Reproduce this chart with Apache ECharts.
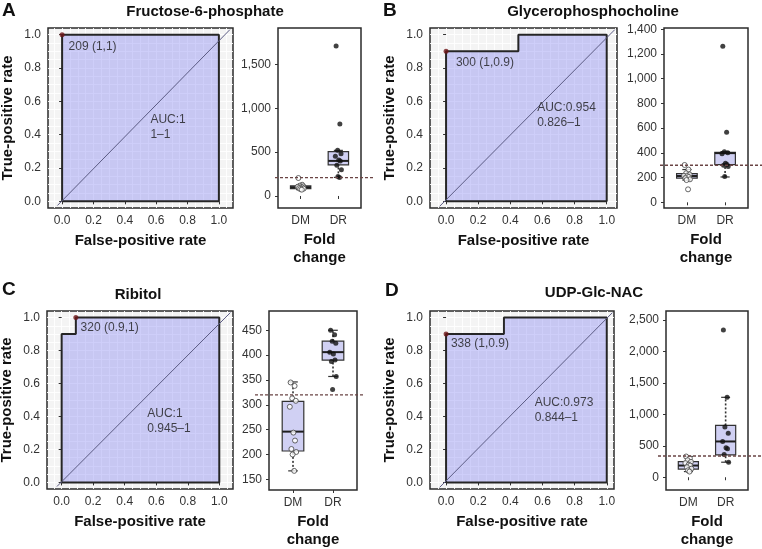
<!DOCTYPE html>
<html><head><meta charset="utf-8">
<script src="https://cdn.jsdelivr.net/npm/echarts@6/dist/echarts.min.js"></script>
<style>html,body{margin:0;padding:0;background:#fff}#c{width:762px;height:549px}</style>
</head><body><div id="c"></div>
<script>
// ---------------- data ----------------
const panelLetters = ['A', 'B', 'C', 'D'];
const metabolites = ['Fructose-6-phosphate', 'Glycerophosphocholine', 'Ribitol', 'UDP-Glc-NAC'];
const groups = ['DM', 'DR'];
const rocTicks = [0, 0.2, 0.4, 0.6, 0.8, 1.0];
const rocGridLines = [-0.05, 0, 0.05, 0.1, 0.15, 0.2, 0.25, 0.3, 0.35, 0.4, 0.45, 0.5, 0.55, 0.6, 0.65, 0.7, 0.75, 0.8, 0.85, 0.9, 0.95, 1, 1.05];

// ROC curves (false-positive rate, true-positive rate), traced round the shaded area
const rocA_fpr = [0, 0, 1, 1, 0];
const rocA_tpr = [0, 1, 1, 0, 0];
const rocB_fpr = [0, 0, 0.45, 0.45, 1, 1, 0];
const rocB_tpr = [0, 0.9, 0.9, 1, 1, 0, 0];
const rocC_fpr = [0, 0, 0.09, 0.09, 1, 1, 0];
const rocC_tpr = [0, 0.9, 0.9, 1, 1, 0, 0];
const rocD_fpr = [0, 0, 0.36, 0.36, 1, 1, 0];
const rocD_tpr = [0, 0.9, 0.9, 1, 1, 0, 0];

const cutoffValues = [209, 300, 320, 338];
const cutoffFpr = [0, 0, 0.09, 0];
const cutoffTpr = [1, 0.9, 1, 0.9];
const cutoffLabels = ['209 (1,1)', '300 (1,0.9)', '320 (0.9,1)', '338 (1,0.9)'];
const aucLabels = ['AUC:1', 'AUC:0.954', 'AUC:1', 'AUC:0.973'];
const aucCI = ['1\u20131', '0.826\u20131', '0.945\u20131', '0.844\u20131'];

// Box plot statistics: [lower whisker, Q1, median, Q3, upper whisker]
const boxA_DM = [72, 84, 100, 115, 128];
const boxA_DR = [212, 355, 400, 505, 520];
const boxB_DM = [180, 195, 213, 232, 265];
const boxB_DR = [205, 305, 398, 405, 410];
const boxC_DM = [167, 207, 246, 307, 346];
const boxC_DR = [357, 390, 406, 428, 450];
const boxD_DM = [90, 130, 186, 248, 330];
const boxD_DR = [239, 356, 569, 824, 1271];

// individual fold-change points
const ptsA_DM = [205, 128, 118, 110, 104, 100, 96, 90, 84, 78, 72];
const ptsA_DR = [1710, 820, 520, 482, 452, 410, 399, 350, 300, 222, 212];
const ptsB_DM = [302, 265, 235, 225, 215, 212, 205, 195, 186, 180, 105];
const ptsB_DR = [1262, 566, 410, 400, 392, 316, 305, 300, 290, 208];
const ptsC_DM = [345, 338, 313, 308, 296, 244, 228, 211, 205, 200, 167];
const ptsC_DR = [450, 441, 428, 424, 406, 402, 390, 387, 357, 331];
const ptsD_DM = [330, 300, 270, 245, 225, 200, 185, 160, 135, 110, 90];
const ptsD_DR = [2340, 1271, 800, 700, 570, 470, 455, 360, 240];

const boxTicksA = [0, 500, 1000, 1500];
const boxTicksB = [0, 200, 400, 600, 800, 1000, 1200, 1400];
const boxTicksC = [150, 200, 250, 300, 350, 400, 450];
const boxTicksD = [0, 500, 1000, 1500, 2000, 2500];

// ---------------- layout ----------------
const FONT = '"Liberation Sans", Arial, sans-serif';
const rocLayout = [
  { left: 48, top: 28, width: 185, height: 180, xmin: -0.09, xmax: 1.09, diag: [[-0.03, -0.025], [1.07, 1.03]], cut: [0.038, 0.93], auc: [0.56, 0.443] },
  { left: 430, top: 28, width: 187, height: 180, xmin: -0.1, xmax: 1.064, diag: [[-0.04, -0.03], [1.05, 1.03]], cut: [0.058, 0.83], auc: [0.564, 0.515] },
  { left: 47, top: 311, width: 186, height: 178, xmin: -0.093, xmax: 1.087, diag: [[-0.03, -0.025], [1.07, 1.03]], cut: [0.117, 0.936], auc: [0.54, 0.37] },
  { left: 430, top: 311, width: 184, height: 178, xmin: -0.1, xmax: 1.045, diag: [[-0.04, -0.03], [1.035, 1.03]], cut: [0.027, 0.84], auc: [0.548, 0.437] }
];
const boxLayout = [
  { left: 278, top: 28, width: 83, height: 180, ymin: -137, ymax: 1915, lineLeft: 275, lineRight: 373 },
  { left: 664, top: 28, width: 84, height: 180, ymin: -46, ymax: 1410, lineLeft: 660, lineRight: 762 },
  { left: 269, top: 311, width: 88, height: 179, ymin: 128.5, ymax: 488.8, lineLeft: 255, lineRight: 365 },
  { left: 666, top: 311, width: 82, height: 179, ymin: -203, ymax: 2644, lineLeft: 658, lineRight: 762 }
];
const titlePos = [[205, 12], [593, 12], [138, 295], [594, 293]];
const letterPos = [[2, 11], [383, 11], [2, 290], [385, 291]];

const rocFpr = [rocA_fpr, rocB_fpr, rocC_fpr, rocD_fpr];
const rocTpr = [rocA_tpr, rocB_tpr, rocC_tpr, rocD_tpr];
const boxStats = [[boxA_DM, boxA_DR], [boxB_DM, boxB_DR], [boxC_DM, boxC_DR], [boxD_DM, boxD_DR]];
const boxPts = [[ptsA_DM, ptsA_DR], [ptsB_DM, ptsB_DR], [ptsC_DM, ptsC_DR], [ptsD_DM, ptsD_DR]];
const boxTicks = [boxTicksA, boxTicksB, boxTicksC, boxTicksD];
const jitter = [-0.06, 0.04, -0.02, 0.07, -0.08, 0.01, 0.05, -0.04, 0.08, -0.01, 0.03];

// ---------------- build ----------------
const grid = [], xAxis = [], yAxis = [], series = [], graphic = [];
const tickLabelStyle = { fontFamily: FONT, fontSize: 12, color: '#333' };
const nameStyle = { fontFamily: FONT, fontSize: 15, fontWeight: 'bold', color: '#111', lineHeight: 18 };
const tickStyle = { show: true, length: 3, lineStyle: { color: '#333', width: 1 } };

function addGrid(g) {
  grid.push(Object.assign({ containLabel: false, outerBoundsMode: 'none' }, g));
  return grid.length - 1;
}

function textSeries(xi, yi, pt, text, extra) {
  series.push({
    type: 'scatter', xAxisIndex: xi, yAxisIndex: yi, symbolSize: 1, silent: true,
    itemStyle: { color: 'rgba(0,0,0,0)' }, z: 6,
    data: [pt],
    label: Object.assign({ show: true, position: 'right', distance: 0, formatter: text,
      fontFamily: FONT, fontSize: 12, color: '#1a1a1a', lineHeight: 15 }, extra || {})
  });
}

function rocPanel(i) {
  const L = rocLayout[i];
  const gi = addGrid({ left: L.left, top: L.top, width: L.width, height: L.height, show: true,
    borderColor: '#2b2b2b', borderWidth: 1.5, backgroundColor: '#f4f4f4' });
  const xi = xAxis.length, yi = yAxis.length;
  xAxis.push({ type: 'value', gridIndex: gi, min: L.xmin, max: L.xmax, position: 'bottom',
    name: 'False-positive rate', nameLocation: 'middle', nameGap: 24, nameTextStyle: nameStyle,
    axisLine: { show: false }, axisTick: Object.assign({ customValues: rocTicks }, tickStyle),
    axisLabel: Object.assign({ customValues: rocTicks, margin: 7, formatter: v => v.toFixed(1) }, tickLabelStyle),
    splitLine: { show: false } });
  xAxis.push({ type: 'value', gridIndex: gi, min: L.xmin, max: L.xmax, position: 'top',
    axisLine: { show: false }, axisTick: { show: false, customValues: rocGridLines }, axisLabel: { show: false },
    splitLine: { show: true, lineStyle: { color: '#ffffff', width: 1, opacity: 0.9 } } });
  yAxis.push({ type: 'value', gridIndex: gi, min: -0.04, max: 1.04, position: 'left',
    name: 'True-positive rate', nameLocation: 'middle', nameGap: 31, nameTextStyle: nameStyle,
    axisLine: { show: false }, axisTick: Object.assign({ customValues: rocTicks }, tickStyle),
    axisLabel: Object.assign({ customValues: rocTicks, margin: 7, formatter: v => v.toFixed(1) }, tickLabelStyle),
    splitLine: { show: false } });
  yAxis.push({ type: 'value', gridIndex: gi, min: -0.04, max: 1.04, position: 'right',
    axisLine: { show: false }, axisTick: { show: false, customValues: rocGridLines }, axisLabel: { show: false },
    splitLine: { show: true, lineStyle: { color: '#ffffff', width: 1, opacity: 0.9 } } });

  series.push({ type: 'line', xAxisIndex: xi, yAxisIndex: yi, symbol: 'none', silent: true, z: 2,
    data: rocFpr[i].map((f, k) => [f, rocTpr[i][k]]),
    lineStyle: { color: '#262626', width: 2 },
    areaStyle: { color: 'rgba(92,92,238,0.42)', origin: 0 } });
  series.push({ type: 'line', xAxisIndex: xi, yAxisIndex: yi, symbol: 'none', silent: true, z: 3,
    data: L.diag, lineStyle: { color: '#5c5c84', width: 1 } });
  series.push({ type: 'scatter', xAxisIndex: xi, yAxisIndex: yi, symbolSize: 5, silent: true, z: 5,
    data: [[cutoffFpr[i], cutoffTpr[i]]], itemStyle: { color: '#6e1518' } });
  textSeries(xi, yi, L.cut, cutoffLabels[i]);
  textSeries(xi, yi, L.auc, aucLabels[i] + '\n' + aucCI[i]);
}

function boxItem(params, api) {
  const x = api.value(0);
  const v = [api.value(1), api.value(2), api.value(3), api.value(4), api.value(5)];
  const c = (a, b) => api.coord([a, b]);
  const hw = 0.27, cw = 0.12;
  const ch = [];
  const seg = (x1, y1, x2, y2, style) => {
    const p = c(x1, y1), q = c(x2, y2);
    ch.push({ type: 'line', shape: { x1: p[0], y1: p[1], x2: q[0], y2: q[1] }, style: style });
  };
  const dot = { stroke: '#333', lineWidth: 1.6, lineDash: [2, 2] };
  const solid = { stroke: '#333', lineWidth: 1.2 };
  seg(x, v[0], x, v[1], dot);
  seg(x, v[3], x, v[4], dot);
  seg(x - cw, v[0], x + cw, v[0], solid);
  seg(x - cw, v[4], x + cw, v[4], solid);
  const tl = c(x - hw, v[3]), br = c(x + hw, v[1]);
  ch.push({ type: 'rect', shape: { x: tl[0], y: tl[1], width: br[0] - tl[0], height: br[1] - tl[1] },
    style: { fill: '#d0d0f3', stroke: '#333', lineWidth: 1.2 } });
  seg(x - hw, v[2], x + hw, v[2], { stroke: '#1e1e1e', lineWidth: 2 });
  return { type: 'group', children: ch };
}

function boxPanel(i) {
  const L = boxLayout[i];
  const gi = addGrid({ left: L.left, top: L.top, width: L.width, height: L.height, show: true,
    borderColor: '#2b2b2b', borderWidth: 1.5, backgroundColor: '#ffffff' });
  const xi = xAxis.length, yi = yAxis.length;
  xAxis.push({ type: 'value', gridIndex: gi, min: 0.4, max: 2.6,
    name: 'Fold\nchange', nameLocation: 'middle', nameGap: 23, nameTextStyle: nameStyle,
    axisLine: { show: false }, axisTick: Object.assign({ customValues: [1, 2] }, tickStyle),
    axisLabel: Object.assign({ customValues: [1, 2], margin: 7, formatter: v => groups[Math.round(v) - 1] }, tickLabelStyle),
    splitLine: { show: false } });
  yAxis.push({ type: 'value', gridIndex: gi, min: L.ymin, max: L.ymax,
    axisLine: { show: false }, axisTick: Object.assign({ customValues: boxTicks[i] }, tickStyle),
    axisLabel: Object.assign({ customValues: boxTicks[i], margin: 7, formatter: v => v.toLocaleString('en-US') }, tickLabelStyle),
    splitLine: { show: false } });
  series.push({ type: 'custom', xAxisIndex: xi, yAxisIndex: yi, renderItem: boxItem, silent: true, z: 2, clip: false,
    encode: { x: 0, y: [1, 2, 3, 4, 5] },
    data: groups.map((g, k) => [k + 1].concat(boxStats[i][k])) });
  groups.forEach((g, k) => {
    series.push({ type: 'scatter', xAxisIndex: xi, yAxisIndex: yi, symbolSize: 5, silent: true, z: 4,
      data: boxPts[i][k].map((val, j) => [k + 1 + jitter[j % jitter.length], val]),
      itemStyle: k === 0 ? { color: '#ffffff', borderColor: '#444', borderWidth: 1 } : { color: '#111' } });
  });
  // cutoff line, a little wider than the panel
  const gl = addGrid({ left: L.lineLeft, top: L.top, width: L.lineRight - L.lineLeft, height: L.height });
  const lxi = xAxis.length, lyi = yAxis.length;
  xAxis.push({ type: 'value', gridIndex: gl, min: 0, max: 1, show: false });
  yAxis.push({ type: 'value', gridIndex: gl, min: L.ymin, max: L.ymax, show: false });
  series.push({ type: 'line', xAxisIndex: lxi, yAxisIndex: lyi, symbol: 'none', silent: true, z: 7,
    data: [[0, cutoffValues[i]], [1, cutoffValues[i]]],
    lineStyle: { color: '#6a4444', width: 1.3, type: [3, 2] } });
}

for (let i = 0; i < 4; i++) {
  rocPanel(i);
  boxPanel(i);
  graphic.push({ type: 'text', x: titlePos[i][0], y: titlePos[i][1],
    style: { text: metabolites[i], font: 'bold 15px ' + FONT, fill: '#111', align: 'center', verticalAlign: 'middle' } });
  graphic.push({ type: 'text', x: letterPos[i][0], y: letterPos[i][1],
    style: { text: panelLetters[i], font: 'bold 19px ' + FONT, fill: '#111', align: 'left', verticalAlign: 'middle' } });
}

const chart = echarts.init(document.getElementById('c'), null, { renderer: 'canvas' });
chart.setOption({ animation: false, backgroundColor: '#ffffff', grid, xAxis, yAxis, series, graphic });
</script></body></html>
